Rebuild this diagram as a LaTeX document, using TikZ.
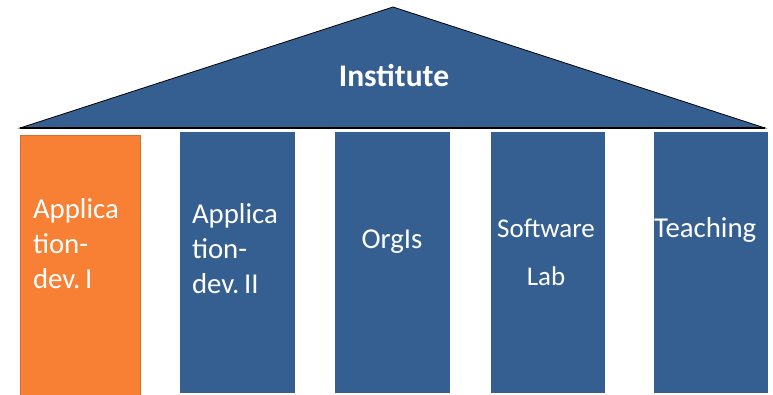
\documentclass[tikz,border=0pt]{standalone}
\usepackage{fontspec}
\setmainfont{Carlito}
\definecolor{roofblue}{HTML}{365F91}
\definecolor{colorange}{HTML}{F88034}
\begin{document}
\begin{tikzpicture}[x=1pt,y=-1pt,
  pillar/.style={draw=none,fill=roofblue,anchor=north west,inner sep=0pt,outer sep=0pt},
  label/.style={text=white,inner sep=0pt,outer sep=0pt,font=\fontsize{28.8}{35}\selectfont},
]
\useasboundingbox (0,0) rectangle (773,395);
% roof
\coordinate (rl) at (20,128);
\coordinate (rt) at (393,7);
\coordinate (rr) at (765,128);
\filldraw[fill=roofblue,draw=black,line width=0.8pt,line join=miter] (rl) -- (rt) -- (rr) -- cycle;
\draw[black,line width=1.5pt] (rl) -- (rr);
\node[text=white,inner sep=0pt,font=\fontsize{31.5}{36}\selectfont\bfseries,anchor=base] (inst) at (394,87) {Institute};
% pillars
\node[pillar,fill=colorange,draw=colorange!85!black,line width=0.6pt,minimum width=120pt,minimum height=261pt] (p1) at (20,135) {};
\node[pillar,minimum width=115pt,minimum height=261pt] (p2) at (180,132) {};
\node[pillar,minimum width=115pt,minimum height=261pt] (p3) at (335,132) {};
\node[pillar,minimum width=114pt,minimum height=261pt] (p4) at (491,132) {};
\node[pillar,minimum width=114pt,minimum height=261pt] (p5) at (654,132) {};
% labels
\node[label,align=left,anchor=base west] (t1) at (33,288) {Applica\\tion-\\dev.\,I};
\node[label,align=left,anchor=base west] (t2) at (192,293) {Applica\\tion-\\dev.\,II};
\node[label,anchor=base] (t3) at (392,248) {OrgIs};
\node[label,align=center,anchor=base,font=\fontsize{27}{48}\selectfont] (t4) at (546,285) {Software\\Lab};
\node[label,anchor=base west] (t5) at (654,237) {Teaching};
\end{tikzpicture}
\end{document}
